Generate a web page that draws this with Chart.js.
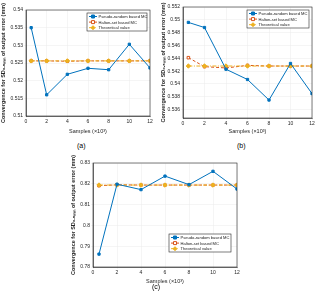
<!DOCTYPE html>
<html>
<head>
<meta charset="utf-8">
<script src="https://cdn.jsdelivr.net/npm/chart.js@4"></script>
<style>
  body { margin: 0; background: #fff; width: 320px; height: 301px; position: relative; overflow: hidden; font-family: "Liberation Sans", Arial, sans-serif; }
  .box { position: absolute; }
  .cap { position: absolute; font-size: 7px; color: #000; }
</style>
</head>
<body>
<div class="box" style="left:0;top:0;width:160px;height:135px"><canvas id="chart-a"></canvas></div>
<div class="box" style="left:160px;top:0;width:160px;height:135px"><canvas id="chart-b"></canvas></div>
<div class="box" style="left:70px;top:155px;width:180px;height:130px"><canvas id="chart-c"></canvas></div>
<div class="cap" style="left:77px;top:142px">(a)</div>
<div class="cap" style="left:237px;top:142px">(b)</div>
<div class="cap" style="left:152px;top:283px">(c)</div>
<script>
// sample sizes (x10^3)
const samples = [0.5, 2, 4, 6, 8, 10, 12];

// (a)
const pseudoA = [0.535, 0.516, 0.5218, 0.5235, 0.5231, 0.5303, 0.5236];
const haltonA = [0.5256, 0.5256, 0.5255, 0.5256, 0.5256, 0.5256, 0.5256];
const theoryA = [0.5256, 0.5256, 0.5256, 0.5256, 0.5256, 0.5256, 0.5256];

// (b)
const pseudoB = [0.5496, 0.5488, 0.5423, 0.5407, 0.5375, 0.5432, 0.5385];
const haltonB = [0.5441, 0.5427, 0.5425, 0.5429, 0.5428, 0.5428, 0.5428];
const theoryB = [0.5428, 0.5428, 0.5428, 0.5428, 0.5428, 0.5428, 0.5428];

// (c)
const pseudoC = [0.7862, 0.8198, 0.8172, 0.8237, 0.8196, 0.826, 0.8175];
const haltonC = [0.8191, 0.8195, 0.8194, 0.8194, 0.8194, 0.8194, 0.8194];
const theoryC = [0.8194, 0.8194, 0.8194, 0.8194, 0.8194, 0.8194, 0.8194];

const legendLabels = ['Pseudo-random based MC', 'Halton-set based MC', 'Theoretical value'];
const xTitle = 'Samples (\u00d710\u00b3)';
const yTitle = 'Convergence for SD\u2080.\u2085\u2098\u2098 of output error (mm)';

const blue = '#0072BD', orange = '#D95319', yellow = '#EDB120';

// box around plot + legend inside the axes
const boxLegend = {
  id: 'boxLegend',
  afterDraw(chart, args, opts) {
    const ctx = chart.ctx, a = chart.chartArea;
    ctx.save();
    ctx.strokeStyle = '#262626';
    ctx.lineWidth = 0.6;
    ctx.strokeRect(a.left, a.top, a.right - a.left, a.bottom - a.top);
    const w = opts.w, h = opts.h;
    const x = opts.corner === 'br' ? a.right - w - 6 : a.right - w - 3;
    const y = opts.corner === 'br' ? a.bottom - h - 15 : a.top + 3;
    ctx.fillStyle = '#fff';
    ctx.fillRect(x, y, w, h);
    ctx.strokeRect(x, y, w, h);
    ctx.font = '4.1px "Liberation Sans", Arial, sans-serif';
    ctx.textBaseline = 'middle';
    chart.data.datasets.forEach((ds, i) => {
      const yy = y + 3.5 + i * 5.6;
      ctx.strokeStyle = ds.borderColor;
      ctx.lineWidth = 1;
      ctx.setLineDash(ds.borderDash || []);
      ctx.beginPath(); ctx.moveTo(x + 2, yy); ctx.lineTo(x + 10, yy); ctx.stroke();
      ctx.setLineDash([]);
      ctx.fillStyle = ds.pointBackgroundColor;
      ctx.strokeStyle = ds.borderColor;
      ctx.beginPath();
      if (ds.pointStyle === 'rectRot') {
        ctx.moveTo(x + 6, yy - 2); ctx.lineTo(x + 8, yy); ctx.lineTo(x + 6, yy + 2); ctx.lineTo(x + 4, yy); ctx.closePath();
      } else {
        ctx.rect(x + 4.5, yy - 1.5, 3, 3);
      }
      ctx.fill(); ctx.stroke();
      ctx.fillStyle = '#222';
      ctx.fillText(ds.label, x + 11.5, yy + 0.3);
    });
    ctx.restore();
  }
};

function fmt(v) { return String(Number(v.toFixed(4))); }

function makeChart(id, pseudo, halton, theory, y, pad, corner, lw, lh) {
  const ctx = document.getElementById(id).getContext('2d');
  return new Chart(ctx, {
    type: 'line',
    data: {
      datasets: [
        { label: legendLabels[0], data: samples.map((s, i) => ({ x: s, y: pseudo[i] })),
          borderColor: blue, backgroundColor: blue, pointBackgroundColor: blue, pointStyle: 'rect',
          pointRadius: 1.6, borderWidth: 1, order: 1 },
        { label: legendLabels[1], data: samples.map((s, i) => ({ x: s, y: halton[i] })),
          borderColor: orange, backgroundColor: orange, pointBackgroundColor: '#fff', pointStyle: 'rect',
          pointRadius: 1.8, borderWidth: 1, borderDash: [3, 2], order: 3 },
        { label: legendLabels[2], data: samples.map((s, i) => ({ x: s, y: theory[i] })),
          borderColor: yellow, backgroundColor: yellow, pointBackgroundColor: yellow, pointStyle: 'rectRot',
          pointRadius: 2.2, borderWidth: 1, borderDash: [4, 1.5, 1, 1.5], order: 2 }
      ]
    },
    options: {
      responsive: true,
      maintainAspectRatio: false,
      animation: false,
      layout: { padding: { top: pad.top, right: pad.right, left: 0, bottom: 0 } },
      plugins: {
        legend: { display: false },
        tooltip: { enabled: false },
        boxLegend: { corner: corner, w: lw, h: lh }
      },
      scales: {
        x: {
          type: 'linear', min: 0, max: 12,
          ticks: { stepSize: 2, font: { size: 5 }, color: '#262626', padding: 1, maxRotation: 0 },
          grid: { color: '#ebebeb', lineWidth: 0.5, tickLength: 2 },
          border: { color: '#262626', width: 0.6 },
          title: { display: true, text: xTitle, font: { size: 5.5 }, color: '#262626', padding: { top: 0, bottom: 0 } },
          afterFit(s) { s.height = pad.bottom; }
        },
        y: {
          min: y.min, max: y.max,
          ticks: { stepSize: y.step, font: { size: 5 }, color: '#262626', padding: 1, callback: fmt },
          grid: { color: '#ebebeb', lineWidth: 0.5, tickLength: 2 },
          border: { color: '#262626', width: 0.6 },
          title: { display: true, text: yTitle, font: { size: 5.5, weight: 'bold' }, color: '#262626', padding: { top: 0, bottom: 1 } },
          afterBuildTicks(s) {
            if (y.filter) s.ticks = s.ticks.filter(t => Math.abs(t.value / y.step - Math.round(t.value / y.step)) < 1e-6);
          },
          afterFit(s) { s.width = pad.left; }
        }
      }
    },
    plugins: [boxLegend]
  });
}

makeChart('chart-a', pseudoA, haltonA, theoryA, { min: 0.51, max: 0.54, step: 0.005 },
  { left: 26, top: 10, right: 10, bottom: 19 }, 'tr', 60, 18);
makeChart('chart-b', pseudoB, haltonB, theoryB, { min: 0.5347, max: 0.552, step: 0.002, filter: true },
  { left: 23, top: 7, right: 8, bottom: 17 }, 'tr', 62, 18);
makeChart('chart-c', pseudoC, haltonC, theoryC, { min: 0.78, max: 0.83, step: 0.01 },
  { left: 23, top: 8, right: 13, bottom: 18 }, 'br', 62, 18);
</script>
</body>
</html>
